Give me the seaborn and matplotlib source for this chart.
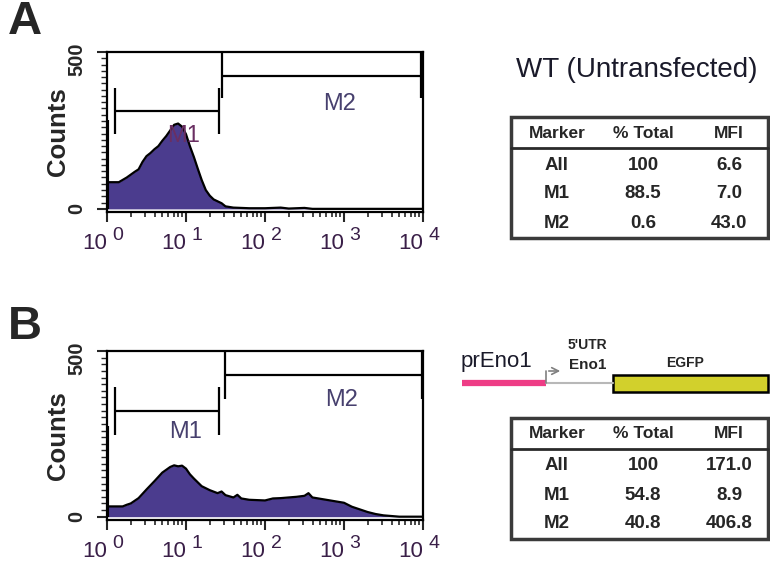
import numpy as np
import pandas as pd
import matplotlib.pyplot as plt
import seaborn as sns
from matplotlib.ticker import FixedLocator, LogLocator, MultipleLocator, NullFormatter
from matplotlib.patches import Rectangle
from matplotlib.transforms import blended_transform_factory

# ---- histogram A (WT): fluorescence channel vs counts
fl_a = [1.0, 1.41, 1.78, 2.24, 2.51, 2.82, 3.16, 3.55, 3.98, 4.47, 5.01, 5.62, 6.31,
        7.08, 7.94, 8.91, 10.0, 11.2, 12.6, 14.1, 15.8, 17.8, 20.0, 22.4, 28.2, 31.6,
        39.8, 63.1, 100, 158, 200, 316, 398, 1000, 10000]
cnt_a = [85, 85, 100, 118, 126, 150, 168, 178, 190, 200, 217, 232, 250,
         268, 272, 262, 238, 200, 165, 128, 92, 60, 42, 30, 18, 8,
         4, 2, 2, 4, 1, 3, 0, 0, 0]
spike_a = 282

# ---- histogram B (prEno1-EGFP)
fl_b = [1.0, 1.58, 1.78, 2.0, 2.51, 3.16, 3.98, 5.01, 6.31, 7.08, 7.94, 8.91, 10.0,
        11.2, 12.6, 15.8, 20.0, 25.1, 28.2, 31.6, 39.8, 44.7, 50.1, 63.1, 100, 126,
        158, 251, 316, 355, 398, 501, 631, 794, 1000, 1259, 1585, 1995, 2512, 3162,
        3981, 5012, 10000]
cnt_b = [31, 31, 36, 40, 56, 82, 107, 133, 150, 155, 152, 154, 145,
         128, 115, 92, 80, 71, 76, 65, 58, 66, 55, 51, 49, 55,
         56, 60, 63, 71, 58, 54, 50, 46, 42, 30, 22, 14, 8, 4,
         2, 0, 0]
spike_b = 275

# ---- marker gates (M1, M2): low edge, high edge, bar height, label position
gate_names = ["M1", "M2"]
gate_lo_a = [1.26, 28.8]
gate_hi_a = [26.3, 9330]
gate_y_a = [312, 425]
gate_lo_b = [1.26, 30.9]
gate_hi_b = [26.3, 9800]
gate_y_b = [318, 428]
lab_x_a = [9.3, 870]
lab_y_a = [233, 334]
lab_x_b = [10.0, 930]
lab_y_b = [255, 352]

decades = [1, 10, 100, 1000, 10000]
count_ticks = [0, 500]

# ---- statistics tables
tbl_cols = ["Marker", "% Total", "MFI"]
tbl_markers = ["All", "M1", "M2"]
pct_a = ["100", "88.5", "0.6"]
mfi_a = ["6.6", "7.0", "43.0"]
pct_b = ["100", "54.8", "40.8"]
mfi_b = ["171.0", "8.9", "406.8"]

sns.set_theme(style="white")
plt.rcParams['font.family'] = ['Liberation Sans', 'DejaVu Sans']

W, H = 770, 565
fig = plt.figure(figsize=(W / 100, H / 100), dpi=100)

FILL = '#4b3c8e'
TXT = '#3a1f48'
LAB = '#47406e'


def ax_rect(left, top, right, bottom):
    return [left / W, 1 - bottom / H, (right - left) / W, (bottom - top) / H]


def draw_hist(ax, fl, cnt, spike, lo, hi, gy, lx, ly, m1col):
    df = pd.DataFrame({'fl': fl, 'cnt': cnt})
    ax.fill_between(df['fl'], 0, df['cnt'], color=FILL, lw=0, zorder=2)
    sns.lineplot(data=df, x='fl', y='cnt', ax=ax, color='black', lw=1.6,
                 sort=False, estimator=None, zorder=3)
    ax.vlines(fl[0], 0, spike, color='black', lw=3, zorder=3)
    for i in range(2):
        ax.hlines(gy[i], lo[i], hi[i], color='black', lw=1.6, zorder=4)
        ax.vlines([lo[i], hi[i]], gy[i] - 72, gy[i] + 72, color='black', lw=1.6, zorder=4)
        ax.text(lx[i], ly[i], gate_names[i], ha='center', va='center', fontsize=17,
                color=m1col if i == 0 else LAB, zorder=5)
    ax.set_xscale('log')
    ax.set_xlim(1, 10000)
    ax.set_ylim(-10, 500)
    ax.xaxis.set_major_locator(FixedLocator(decades))
    ax.xaxis.set_major_formatter(NullFormatter())
    ax.xaxis.set_minor_locator(LogLocator(base=10, subs=np.arange(2, 10), numticks=20))
    ax.xaxis.set_minor_formatter(NullFormatter())
    # decade labels drawn as "10" plus a large raised exponent
    tr = blended_transform_factory(ax.transData, ax.transAxes)
    for k, d in enumerate(decades):
        ax.annotate('10', (d, 0), xycoords=tr, xytext=(-9, -23), textcoords='offset points',
                    ha='center', va='center', fontsize=16, color=TXT, annotation_clip=False)
        ax.annotate(str(k), (d, 0), xycoords=tr, xytext=(8, -17), textcoords='offset points',
                    ha='center', va='center', fontsize=14, color=TXT, annotation_clip=False)
    ax.yaxis.set_major_locator(FixedLocator(count_ticks))
    ax.yaxis.set_major_formatter(NullFormatter())
    ax.yaxis.set_minor_locator(MultipleLocator(20))
    # rotated bold count labels
    tr_y = blended_transform_factory(ax.transAxes, ax.transData)
    for v in count_ticks:
        dy = -5 if v == 500 else 0
        ax.annotate(str(v), (0, v), xycoords=tr_y, xytext=(-22, dy), textcoords='offset points',
                    ha='center', va='center', rotation=90, fontsize=14.5,
                    fontweight='bold', annotation_clip=False)
    ax.tick_params(axis='x', which='major', length=7, width=1.5, direction='out', bottom=True)
    ax.tick_params(axis='x', which='minor', length=3.5, width=1.2, direction='out', bottom=True)
    ax.tick_params(axis='y', which='major', length=7, width=1.5, direction='out', left=True)
    ax.tick_params(axis='y', which='minor', length=4, width=1.0, direction='out', left=True)
    for s in ax.spines.values():
        s.set_color('black')
        s.set_linewidth(1.6)
    ax.set_xlabel('')
    ax.set_ylabel('Counts', fontsize=18.5, fontweight='bold', labelpad=16)


ax_a = fig.add_axes(ax_rect(107, 52, 423, 212))
draw_hist(ax_a, fl_a, cnt_a, spike_a, gate_lo_a, gate_hi_a, gate_y_a, lab_x_a, lab_y_a, '#6a2f62')
ax_b = fig.add_axes(ax_rect(107, 351, 423, 520))
draw_hist(ax_b, fl_b, cnt_b, spike_b, gate_lo_b, gate_hi_b, gate_y_b, lab_x_b, lab_y_b, LAB)

# overlay in pixel coordinates for letters, tables and construct
ov = fig.add_axes([0, 0, 1, 1], zorder=-1)
ov.set_xlim(0, W)
ov.set_ylim(H, 0)
ov.axis('off')

ov.text(8, 22, 'A', fontsize=34, fontweight='bold', va='center', ha='left')
ov.text(8, 327, 'B', fontsize=34, fontweight='bold', va='center', ha='left')
ov.text(637, 70, 'WT (Untransfected)', fontsize=20, ha='center', va='center', color='#1a1a2a')


def draw_table(top, pct, mfi):
    ov.add_patch(Rectangle((511, top), 257, 121, fill=False, ec='#3a3a3a', lw=2.5))
    ov.plot([511, 768], [top + 31, top + 31], color='#2a2a2a', lw=2)
    col_x = [557, 643, 729]
    for x, c in zip(col_x, tbl_cols):
        ov.text(x, top + 16, c, ha='center', va='center', fontsize=12.5, fontweight='bold')
    for r in range(3):
        y = top + 48 + r * 29
        for x, v in zip(col_x, [tbl_markers[r], pct[r], mfi[r]]):
            ov.text(x, y, v, ha='center', va='center', fontsize=13.5, fontweight='bold')


draw_table(117, pct_a, mfi_a)
draw_table(418, pct_b, mfi_b)

# construct diagram prEno1 -> 5'UTR Eno1 -> EGFP
ov.plot([462, 546], [383, 383], color='#ee3d86', lw=4.5, solid_capstyle='butt')
ov.plot([546, 613], [383, 383], color='#b8b8b8', lw=1.5)
ov.plot([546, 546], [383, 371], color='#808080', lw=1.2)
ov.annotate('', xy=(563, 371), xytext=(546, 371),
            arrowprops=dict(arrowstyle='->', color='#808080', lw=1.2))
ov.add_patch(Rectangle((613, 375), 155, 17, fc='#d2d02c', ec='black', lw=1.8))
ov.text(461, 362, 'prEno1', fontsize=16, ha='left', va='center', color='#1a1a2a')
ov.text(587, 345, "5'UTR", fontsize=10, fontweight='bold', ha='center', va='center')
ov.text(588, 365, 'Eno1', fontsize=11, fontweight='bold', ha='center', va='center')
ov.text(685, 363, 'EGFP', fontsize=10, fontweight='bold', ha='center', va='center')

fig.savefig('out.png', dpi=100)
